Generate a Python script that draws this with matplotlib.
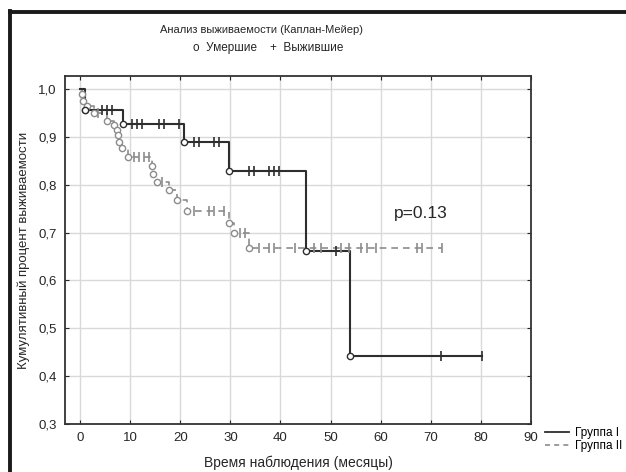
import numpy as np
import matplotlib
matplotlib.use('Agg')
import matplotlib.pyplot as plt
from matplotlib.lines import Line2D

plt.rcParams['font.family'] = ['Liberation Sans', 'DejaVu Sans']

# Группа I: moments of death and survival after each one
g1_t = [0, 1.0, 8.5, 20.7, 29.7, 45.0, 53.9]
g1_s = [1.0, 0.955, 0.927, 0.889, 0.828, 0.662, 0.442]
g1_end = 80.2
g1_cens = [4.3, 5.3, 6.3, 10.3, 11.3, 12.3, 15.7, 16.7, 19.7,
           22.7, 23.7, 26.7, 27.7, 33.7, 34.7, 37.7, 38.7, 39.7,
           51.0, 72.0, 80.2]

# Группа II
g2_t = [0, 0.3, 0.5, 1.3, 1.0, 2.7, 5.3, 6.7, 7.3, 7.5, 7.7, 8.3, 9.5,
        14.3, 14.5, 15.3, 17.7, 19.3, 21.3, 29.7, 30.7, 33.7]
g2_s = [1.0, 0.99, 0.975, 0.964, 0.955, 0.949, 0.934, 0.925, 0.915,
        0.904, 0.89, 0.876, 0.858, 0.84, 0.823, 0.806, 0.788, 0.767,
        0.745, 0.72, 0.698, 0.667]
g2_end = 72.3
g2_cens = [3.5, 10.7, 11.7, 12.7, 13.7, 16.3, 22.7, 25.7, 26.7, 28.7,
           32.0, 33.0, 35.7, 37.7, 38.7, 43.0, 46.7, 48.0, 52.0, 53.6,
           56.0, 57.3, 59.0, 67.3, 68.3, 72.3]

xticks = [0, 10, 20, 30, 40, 50, 60, 70, 80, 90]
yticks = [0.3, 0.4, 0.5, 0.6, 0.7, 0.8, 0.9, 1.0]

TXT = '#262626'


def km_at(t, s, x):
    # survival value holding at time x
    order = np.argsort(t, kind='stable')
    ts = np.array(t)[order]
    ss_ = np.array(s)[order]
    i = np.searchsorted(ts, x, side='right') - 1
    return ss_[i]


def draw_group(ax, t, s, end, cens, color, ls, lw):
    order = np.argsort(t, kind='stable')
    ts = list(np.array(t)[order]) + [end]
    ss_ = list(np.array(s)[order]) + [np.array(s)[order][-1]]
    ax.step(ts, ss_, where='post', color=color, ls=ls, lw=lw, zorder=3)
    ax.plot(ts[1:-1], ss_[1:-1], 'o', mfc='white', mec=color, ms=4.5,
            mew=1.0, zorder=4)
    cy = [km_at(t, s, c) for c in cens]
    ax.plot(cens, cy, '|', color=color, ms=7, mew=1.2, zorder=4)


fig = plt.figure(figsize=(6.26, 4.72), dpi=100)
W, H = 626., 472.
ax = fig.add_axes([65 / W, 1 - 424 / H, (531 - 65) / W, (424 - 76) / H])

draw_group(ax, g2_t, g2_s, g2_end, g2_cens, '#8c8c8c', (0, (4, 3)), 1.2)
draw_group(ax, g1_t, g1_s, g1_end, g1_cens, '#2e2e2e', '-', 1.5)

ax.set_xlim(-3, 90)
ax.set_ylim(0.3, 1.027)
ax.set_xticks(xticks)
ax.set_yticks(yticks)
ax.set_xticklabels([str(v) for v in xticks])
ax.set_yticklabels([('%.1f' % v).replace('.', ',') for v in yticks])
ax.tick_params(direction='in', length=3, top=True, right=True,
               labelsize=9.5, colors=TXT, pad=6)
ax.grid(True, color='#d9d9d9', lw=1)
ax.set_axisbelow(True)
for sp in ax.spines.values():
    sp.set_color('#333333')
    sp.set_linewidth(1.3)

ax.set_xlabel('Время наблюдения (месяцы)', fontsize=10, color=TXT,
              labelpad=8)
ax.set_ylabel('Кумулятивный процент выживаемости', fontsize=9.5,
              color=TXT, labelpad=6)

ax.text(68, 0.74, 'p=0.13', fontsize=12.5, color=TXT, ha='center',
        va='center')

fig.text(262 / W, 1 - 30 / H, 'Анализ выживаемости (Каплан-Мейер)',
         fontsize=8, ha='center', va='center', color=TXT)
fig.text(268 / W, 1 - 48 / H, 'o  Умершие    +  Выжившие',
         fontsize=8.5, ha='center', va='center', color=TXT)

handles = [Line2D([], [], color='#2e2e2e', lw=1.3, ls='-'),
           Line2D([], [], color='#8c8c8c', lw=1.2, ls=(0, (3, 2.5)))]
fig.legend(handles, ['Группа I', 'Группа II'], loc='lower left',
           bbox_to_anchor=(537 / W, 1 - 460 / H), frameon=False,
           fontsize=8.5, handlelength=2.0, handletextpad=0.5,
           labelspacing=0.05, borderpad=0.2)

# thick frame around the picture (cut off on right and bottom)
fig.add_artist(Line2D([9.5 / W, 9.5 / W], [0, 1 - 11 / H], transform=fig.transFigure,
                      color='#1a1a1a', lw=2.8, solid_capstyle='projecting'))
fig.add_artist(Line2D([9.5 / W, 1], [1 - 11.5 / H, 1 - 11.5 / H],
                      transform=fig.transFigure, color='#1a1a1a', lw=2.8,
                      solid_capstyle='projecting'))

fig.savefig('out.png', dpi=100)
